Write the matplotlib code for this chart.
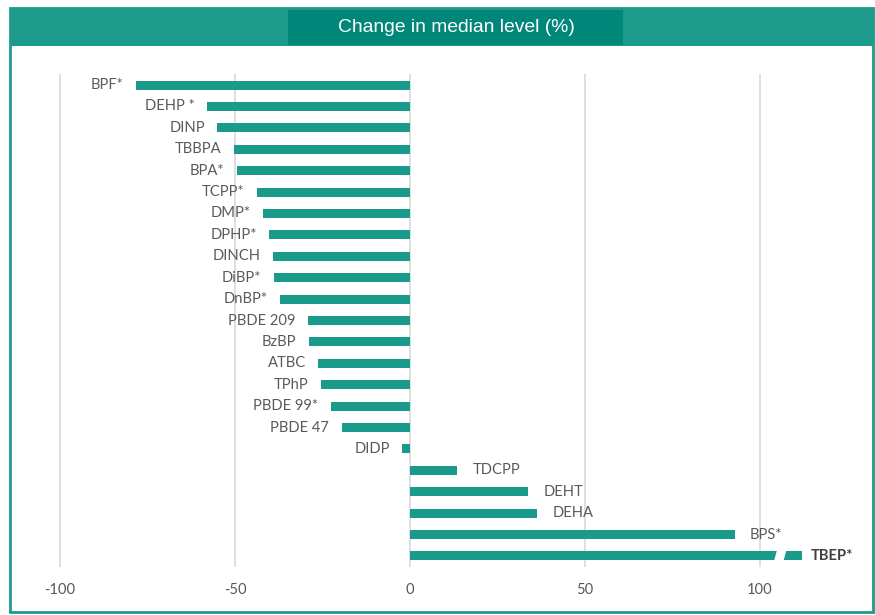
import matplotlib
matplotlib.use("Agg")
import matplotlib.pyplot as plt
from matplotlib.patches import Rectangle, Polygon

chemicals = ["BPF*", "DEHP *", "DINP", "TBBPA", "BPA*", "TCPP*", "DMP*", "DPHP*",
             "DINCH", "DiBP*", "DnBP*", "PBDE 209", "BzBP", "ATBC", "TPhP",
             "PBDE 99*", "PBDE 47", "DIDP", "TDCPP", "DEHT", "DEHA", "BPS*", "TBEP*"]
change = [-78.3, -58.0, -55.0, -50.2, -49.5, -43.8, -42.0, -40.2,
          -39.2, -39.0, -37.1, -29.2, -28.9, -26.2, -25.5,
          -22.7, -19.5, -2.2, 13.5, 33.7, 36.3, 92.8, 112.0]
xticks = [-100, -50, 0, 50, 100]
title = "Change in median level (%)"

BAR = "#1a9a8a"
HEAD = "#1c9b8d"
HEAD_DARK = "#00877a"
TXT = "#595959"

W, H = 875, 615
fig = plt.figure(figsize=(W / 100, H / 100), dpi=100)

def fx(px):
    return px / W

def fy(py):
    return 1 - py / H

# axes placement (pixel coords measured from reference)
ax_left, ax_right = 40, 860
ax_top, ax_bottom = 74.3, 566.7
ax = fig.add_axes([fx(ax_left), fy(ax_bottom), (ax_right - ax_left) / W, (ax_bottom - ax_top) / H])
x0_px, scale = 410, 3.5
ax.set_xlim((ax_left - x0_px) / scale, (ax_right - x0_px) / scale)
n = len(chemicals)
ax.set_ylim(n - 0.5, -0.5)

ypos = list(range(n))
ax.barh(ypos, change, height=0.42, color=BAR, zorder=3)

# axis break for TBEP*
yb = n - 1
brk = Polygon([(103.9, yb + 0.3), (106.6, yb + 0.3), (107.6, yb - 0.3), (104.9, yb - 0.3)],
              closed=True, facecolor="white", edgecolor="none", zorder=4)
ax.add_patch(brk)

FS = 10.6
for i, (name, v) in enumerate(zip(chemicals, change)):
    if v < 0:
        ax.annotate(name, (v, i), xytext=(-9, 0), textcoords="offset points",
                    ha="right", va="center", fontsize=FS, color=TXT, family="Lato")
    else:
        bold = name.startswith("TBEP")
        ax.annotate(name, (v, i), xytext=(6 if bold else 11, 0), textcoords="offset points",
                    ha="left", va="center", fontsize=FS, color="#404040" if bold else TXT,
                    family="Lato", fontweight="bold" if bold else "normal")

ax.set_xticks(xticks)
ax.set_xticklabels([str(t) for t in xticks], fontsize=FS, color=TXT, family="Lato")
ax.tick_params(axis="x", length=0, pad=12)
ax.set_yticks([])
for s in ax.spines.values():
    s.set_visible(False)
ax.grid(axis="x", color="#d9d9d9", linewidth=1.2, zorder=0)
ax.set_axisbelow(True)

# header band and title box
fig.patches.append(Rectangle((fx(10), fy(46)), fx(863), 38 / H, transform=fig.transFigure,
                             facecolor=HEAD, edgecolor="none", zorder=0))
fig.patches.append(Rectangle((fx(288), fy(45)), fx(335), 35 / H, transform=fig.transFigure,
                             facecolor=HEAD_DARK, edgecolor="none", zorder=1))
fig.text(fx(456), fy(28), title, ha="center", va="center", color="white",
         fontsize=13.9, family="Liberation Sans")
# outer frame
fig.patches.append(Rectangle((fx(10), fy(612)), fx(863), 604 / H, transform=fig.transFigure,
                             facecolor="none", edgecolor=HEAD, linewidth=2, zorder=2))

fig.savefig("out.png", dpi=100)
